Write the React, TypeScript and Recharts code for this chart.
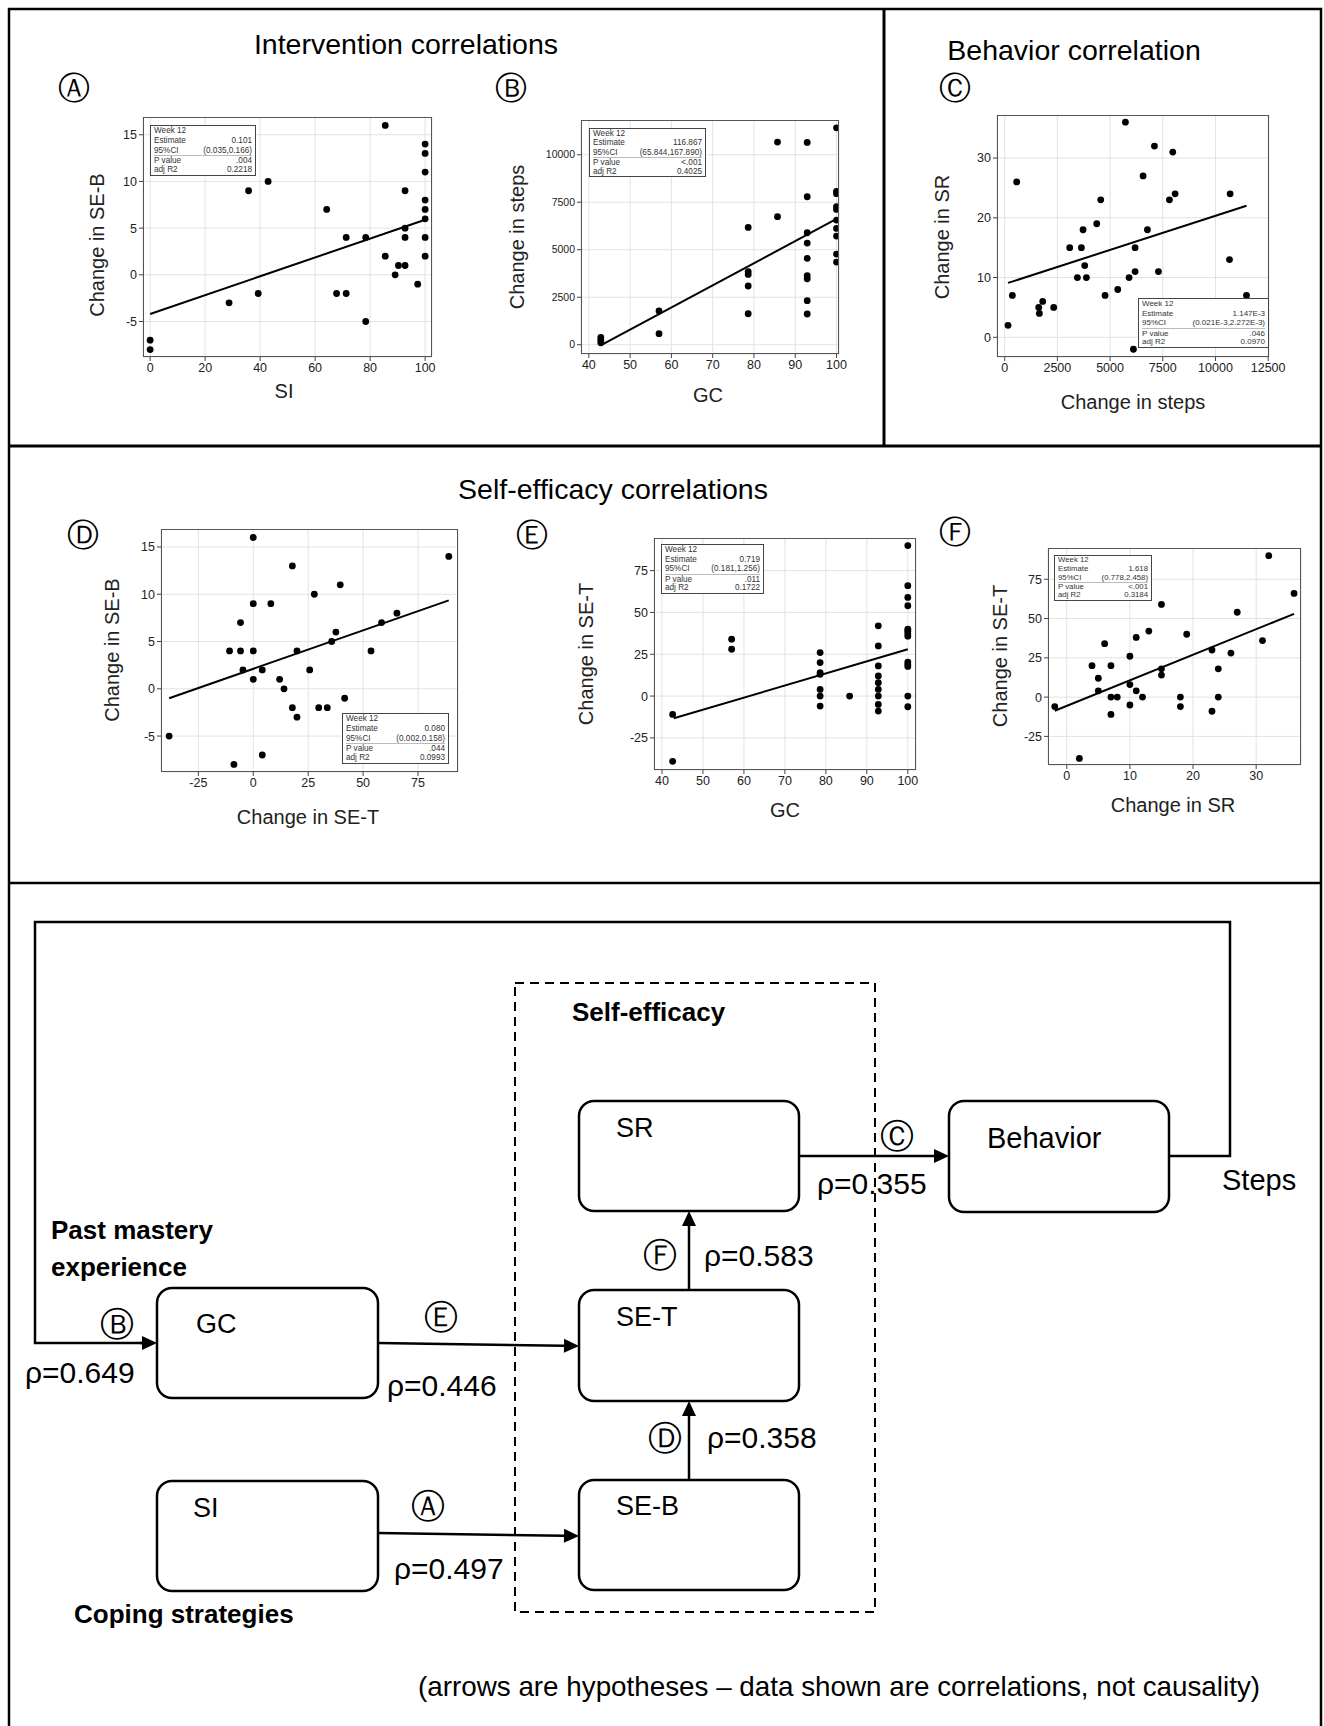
import { ScatterChart, Scatter, XAxis, YAxis, CartesianGrid } from 'recharts'

const FONT = '"Liberation Sans", Arial, sans-serif'

// A: SI vs change in SE-B
const siA = [0, 0, 28.7, 35.8, 39.3, 42.9, 64.2, 67.8, 71.3, 71.3, 78.4, 78.4, 85.5, 85.5, 89.1, 90.3, 92.7, 92.7, 92.7, 92.7, 97.3, 100, 100, 100, 100, 100, 100, 100, 100]
const seBA = [-7, -8, -3, 9, -2, 10, 7, -2, 4, -2, 4, -5, 16, 2, 0, 1, 9, 5, 4, 1, -1, 14, 13, 11, 8, 7, 6, 4, 2]
const fitXA = [0, 100]
const fitYA = [-4.2, 5.9]

// B: GC vs change in steps
const gcB = [42.9, 42.9, 42.9, 57, 57, 78.6, 78.6, 78.6, 78.6, 78.6, 85.7, 85.7, 92.9, 92.9, 92.9, 92.9, 92.9, 92.9, 92.9, 92.9, 92.9, 100, 100, 100, 100, 100, 100, 100, 100, 100, 100]
const stepsB = [380, 230, 100, 1780, 580, 6175, 3850, 3700, 3090, 1630, 6740, 10670, 10650, 7790, 5895, 5350, 4545, 3630, 3470, 2315, 1615, 11420, 8070, 7950, 7265, 7120, 6560, 6120, 5720, 4770, 4350]
const fitXB = [43.2, 100]
const fitYB = [0, 6620]

// C: change in steps vs change in SR
const stepsC = [158, 364, 570, 1614, 1646, 1804, 2326, 3085, 3449, 3639, 3718, 3797, 3877, 4367, 4557, 4763, 5364, 5728, 5902, 6108, 6187, 6187, 6566, 6772, 7104, 7294, 7816, 7975, 8085, 10696, 10665, 11472]
const srC = [2, 7, 26, 5, 4, 6, 5, 15, 10, 15, 18, 12, 10, 19, 23, 7, 8, 36, 10, -2, 15, 11, 27, 18, 32, 11, 23, 31, 24, 24, 13, 7]
const fitXC = [158, 11472]
const fitYC = [9.1, 22.0]

// D: change in SE-T vs change in SE-B
const seTD = [-38.3, -10.8, -8.8, -5.8, -5.8, -4.7, 0, 0, 0, 0, 4.1, 4.1, 8, 12, 14, 17.8, 17.8, 19.9, 19.9, 25.7, 27.8, 29.8, 33.7, 35.7, 37.6, 39.6, 41.6, 53.6, 58.4, 65.4, 89]
const seBD = [-5, 4, -8, 7, 4, 2, 16, 9, 4, 1, 2, -7, 9, 1, 0, 13, -2, -3, 4, 2, 10, -2, -2, 5, 6, 11, -1, 4, 7, 8, 14]
const fitXD = [-38.3, 89]
const fitYD = [-1.0, 9.35]

// E: GC vs change in SE-T
const gcE = [42.6, 42.6, 57, 57, 78.6, 78.6, 78.6, 78.6, 78.6, 78.6, 78.6, 85.8, 92.8, 92.8, 92.8, 92.8, 92.8, 92.8, 92.8, 92.8, 92.8, 100, 100, 100, 100, 100, 100, 100, 100, 100, 100, 100, 100, 100]
const seTE = [-39, -11, 34, 28, 26, 20, 14, 13, 4, 0, -6, 0, 42, 30, 18, 12, 8, 4, 0, -5, -9, 90, 66, 59, 54, 40, 38.8, 37.2, 35.8, 20.3, 18.9, 17.7, 0, -6.4]
const fitXE = [42.9, 100]
const fitYE = [-13.3, 28]

// F: change in SR vs change in SE-T
const srF = [-1.9, 2, 4, 5, 5, 6, 7, 7, 7, 8, 10, 10, 10, 11, 11, 12, 13, 15, 15, 15, 18, 18, 19, 23, 23, 24, 24, 26, 27, 31, 32, 36]
const seTF = [-6, -39, 20, 12, 4, 34, 20, 0, -11, 0, 26, 8, -5, 38, 4, 0, 42, 59, 18, 14, 0, -6, 40, 30, -9, 18, 0, 28, 54, 36, 90, 66]
const fitXF = [-1.9, 36]
const fitYF = [-8.7, 53]

const statLabels = ['Week 12', 'Estimate', '95%CI', 'P value', 'adj R2']
const statsA = ['', '0.101', '(0.035,0.166)', '.004', '0.2218']
const statsB = ['', '116.867', '(65.844,167.890)', '<.001', '0.4025']
const statsC = ['', '1.147E-3', '(0.021E-3,2.272E-3)', '.046', '0.0970']
const statsD = ['', '0.080', '(0.002,0.158)', '.044', '0.0993']
const statsE = ['', '0.719', '(0.181,1.256)', '.011', '0.1722']
const statsF = ['', '1.618', '(0.778,2.458)', '<.001', '0.3184']

const toPoints = (xs: number[], ys: number[]) => xs.map((x, i) => ({ x, y: ys[i] }))

const Dot = (props: any) => <circle cx={props.cx} cy={props.cy} r={3.4} fill="#000" />
const NoDot = () => <g />

type PanelProps = {
  xs: number[]; ys: number[]; fx: number[]; fy: number[]
  xDomain: [number, number]; yDomain: [number, number]
  xTicks: number[]; yTicks: number[]
  frame: [number, number, number, number]
  stats: string[]; statBox: [number, number, number, number]
  xLabel: string; yLabel: string
  xLabelPos: [number, number]; yLabelPos: [number, number]
  yTickFont?: number
  statFont?: number
}

function StatBox({ stats, box, font }: { stats: string[]; box: [number, number, number, number]; font: number }) {
  const [l, t, r, b] = box
  const rowH = (b - t - 2) / 5
  return (
    <div style={{ position: 'absolute', left: l, top: t, width: r - l, height: b - t, boxSizing: 'border-box', border: '1px solid #444', background: '#fff', fontFamily: FONT, fontSize: font, color: '#333', padding: '0 3px' }}>
      {statLabels.map((lab, i) => (
        <div key={lab} style={{ display: 'flex', justifyContent: 'space-between', height: rowH, lineHeight: rowH + 'px', whiteSpace: 'nowrap', borderTop: i === 3 ? '1px solid #bbb' : 'none', boxSizing: 'border-box' }}>
          <span>{lab}</span>
          <span>{stats[i]}</span>
        </div>
      ))}
    </div>
  )
}

function Panel(p: PanelProps) {
  const yw = 44
  const xh = 30
  const rm = 24
  const [x0, y0, x1, y1] = p.frame
  const pw = x1 - x0
  const ph = y1 - y0
  return (
    <>
      <div style={{ position: 'absolute', left: x0 - yw, top: y0 }}>
        <ScatterChart width={pw + yw + rm} height={ph + xh} margin={{ top: 0, right: rm, bottom: 0, left: 0 }}>
          <CartesianGrid stroke="#e2e2e2" />
          <XAxis type="number" dataKey="x" domain={p.xDomain} ticks={p.xTicks} allowDataOverflow interval={0}
            height={xh} axisLine={false} tickSize={4} tickLine={{ stroke: '#444' }}
            tick={{ fontSize: 12.5, fill: '#222', fontFamily: FONT }} />
          <YAxis type="number" dataKey="y" domain={p.yDomain} ticks={p.yTicks} allowDataOverflow interval={0}
            width={yw} axisLine={false} tickSize={4} tickLine={{ stroke: '#444' }}
            tick={{ fontSize: p.yTickFont ?? 12.5, fill: '#222', fontFamily: FONT }} />
          <Scatter data={toPoints(p.xs, p.ys)} shape={Dot} isAnimationActive={false} />
          <Scatter data={toPoints(p.fx, p.fy)} shape={NoDot} line={{ stroke: '#000', strokeWidth: 2 }} isAnimationActive={false} />
        </ScatterChart>
      </div>
      <div style={{ position: 'absolute', left: x0, top: y0, width: pw, height: ph, boxSizing: 'border-box', border: '1px solid #555', pointerEvents: 'none' }} />
      <StatBox stats={p.stats} box={p.statBox} font={p.statFont ?? 8.2} />
      <div style={{ position: 'absolute', left: p.xLabelPos[0], top: p.xLabelPos[1], transform: 'translate(-50%,-50%)', fontFamily: FONT, fontSize: 20, color: '#222', whiteSpace: 'nowrap' }}>{p.xLabel}</div>
      <div style={{ position: 'absolute', left: p.yLabelPos[0], top: p.yLabelPos[1], transform: 'translate(-50%,-50%) rotate(-90deg)', fontFamily: FONT, fontSize: 20, color: '#222', whiteSpace: 'nowrap' }}>{p.yLabel}</div>
    </>
  )
}

function Arrow({ x1, y1, x2, y2 }: { x1: number; y1: number; x2: number; y2: number }) {
  const a = Math.atan2(y2 - y1, x2 - x1)
  const L = 15
  const W = 7
  const bx = x2 - L * Math.cos(a)
  const by = y2 - L * Math.sin(a)
  const px = -Math.sin(a) * W
  const py = Math.cos(a) * W
  return (
    <g>
      <line x1={x1} y1={y1} x2={bx} y2={by} stroke="#000" strokeWidth={2.5} />
      <polygon points={`${x2},${y2} ${bx + px},${by + py} ${bx - px},${by - py}`} fill="#000" />
    </g>
  )
}

const Box = ({ x, y, w, h }: { x: number; y: number; w: number; h: number }) => (
  <rect x={x} y={y} width={w} height={h} rx={15} fill="#fff" stroke="#000" strokeWidth={2.5} />
)

const Circ = ({ x, y, c, s = 34 }: { x: number; y: number; c: string; s?: number }) => (
  <text x={x} y={y} textAnchor="middle" dominantBaseline="central" fontFamily='"DejaVu Sans", sans-serif' fontSize={s}>{c}</text>
)

function Diagram() {
  const T = { fontFamily: FONT, fontSize: 27, fill: '#000' }
  const R = { fontFamily: FONT, fontSize: 30, fill: '#000' }
  const B = { fontFamily: FONT, fontSize: 26, fontWeight: 700, fill: '#000' }
  const H = { fontFamily: FONT, fontSize: 28.5, fill: '#000' }
  return (
    <svg width={1324} height={1726} style={{ position: 'absolute', left: 0, top: 0 }}>
      <rect x={0} y={0} width={1324} height={1726} fill="#fff" />
      {/* panel borders */}
      <rect x={9} y={9} width={1312} height={1730} fill="none" stroke="#000" strokeWidth={2.5} />
      <line x1={9} y1={446} x2={1321} y2={446} stroke="#000" strokeWidth={3} />
      <line x1={884} y1={9} x2={884} y2={446} stroke="#000" strokeWidth={3} />
      <line x1={9} y1={883} x2={1321} y2={883} stroke="#000" strokeWidth={2.5} />

      {/* section titles */}
      <text x={406} y={54} textAnchor="middle" {...H}>Intervention correlations</text>
      <text x={1074} y={60} textAnchor="middle" {...H}>Behavior correlation</text>
      <text x={613} y={499} textAnchor="middle" {...H}>Self-efficacy correlations</text>
      <Circ x={74} y={88} c="Ⓐ" s={32} />
      <Circ x={511} y={88} c="Ⓑ" s={32} />
      <Circ x={955} y={88} c="Ⓒ" s={32} />
      <Circ x={83} y={535} c="Ⓓ" s={32} />
      <Circ x={532} y={535} c="Ⓔ" s={32} />
      <Circ x={955} y={532} c="Ⓕ" s={32} />

      {/* feedback loop */}
      <polyline points="1169,1156 1230,1156 1230,922 35,922 35,1343 142,1343" fill="none" stroke="#000" strokeWidth={2.5} />
      <Arrow x1={140} y1={1343} x2={157} y2={1343} />

      {/* self-efficacy group */}
      <rect x={515} y={983} width={360} height={629} fill="none" stroke="#000" strokeWidth={2} strokeDasharray="9,6" />
      <text x={572} y={1021} {...B}>Self-efficacy</text>

      <Box x={579} y={1101} w={220} h={110} />
      <Box x={949} y={1101} w={220} h={111} />
      <Box x={579} y={1290} w={220} h={111} />
      <Box x={579} y={1480} w={220} h={110} />
      <Box x={157} y={1288} w={221} h={110} />
      <Box x={157} y={1481} w={221} h={110} />

      <text x={616} y={1137} {...T}>SR</text>
      <text x={987} y={1148} {...T} fontSize={29}>Behavior</text>
      <text x={616} y={1326} {...T}>SE-T</text>
      <text x={616} y={1515} {...T}>SE-B</text>
      <text x={196} y={1333} {...T}>GC</text>
      <text x={193} y={1517} {...T}>SI</text>

      <Arrow x1={799} y1={1156} x2={949} y2={1156} />
      <Arrow x1={689} y1={1290} x2={689} y2={1211} />
      <Arrow x1={378} y1={1343} x2={579} y2={1346} />
      <Arrow x1={689} y1={1480} x2={689} y2={1401} />
      <Arrow x1={378} y1={1533} x2={579} y2={1536} />

      <Circ x={897} y={1136} c="Ⓒ" />
      <text x={817} y={1194} {...R}>ρ=0.355</text>
      <text x={1222} y={1190} {...T} fontSize={29}>Steps</text>
      <Circ x={660} y={1255} c="Ⓕ" />
      <text x={704} y={1266} {...R}>ρ=0.583</text>
      <Circ x={441} y={1317} c="Ⓔ" />
      <text x={387} y={1396} {...R}>ρ=0.446</text>
      <Circ x={665} y={1438} c="Ⓓ" />
      <text x={707} y={1448} {...R}>ρ=0.358</text>
      <Circ x={428} y={1506} c="Ⓐ" />
      <text x={394} y={1579} {...R}>ρ=0.497</text>
      <Circ x={117} y={1324} c="Ⓑ" />
      <text x={25} y={1383} {...R}>ρ=0.649</text>

      <text x={51} y={1239} {...B}>Past mastery</text>
      <text x={51} y={1276} {...B}>experience</text>
      <text x={74} y={1623} {...B}>Coping strategies</text>
      <text x={418} y={1696} fontFamily={FONT} fontSize={27.8}>(arrows are hypotheses – data shown are correlations, not causality)</text>
    </svg>
  )
}

export default function App() {
  return (
    <div style={{ position: 'absolute', left: 0, top: 0, width: 1324, height: 1726, background: '#fff', overflow: 'hidden' }}>
      <Diagram />
      <Panel xs={siA} ys={seBA} fx={fitXA} fy={fitYA} xDomain={[-2.6, 102.5]} yDomain={[-8.8, 16.9]}
        xTicks={[0, 20, 40, 60, 80, 100]} yTicks={[-5, 0, 5, 10, 15]} frame={[143, 117, 432, 357]}
        stats={statsA} statBox={[150, 125, 256, 176]} xLabel="SI" yLabel="Change in SE-B"
        xLabelPos={[284, 391]} yLabelPos={[97, 245]} />
      <Panel xs={gcB} ys={stepsB} fx={fitXB} fy={fitYB} xDomain={[38.1, 100.6]} yDomain={[-490, 11830]}
        xTicks={[40, 50, 60, 70, 80, 90, 100]} yTicks={[0, 2500, 5000, 7500, 10000]} frame={[581, 120, 839, 354]}
        stats={statsB} statBox={[589, 128, 706, 177]} xLabel="GC" yLabel="Change in steps"
        xLabelPos={[708, 395]} yLabelPos={[517, 237]} yTickFont={10.5} />
      <Panel xs={stepsC} ys={srC} fx={fitXC} fy={fitYC} xDomain={[-365, 12540]} yDomain={[-3.3, 37.2]}
        xTicks={[0, 2500, 5000, 7500, 10000, 12500]} yTicks={[0, 10, 20, 30]} frame={[997, 115, 1269, 357]}
        stats={statsC} statBox={[1138, 298, 1269, 348]} xLabel="Change in steps" yLabel="Change in SR"
        xLabelPos={[1133, 402]} yLabelPos={[942, 237]} statFont={8} />
      <Panel xs={seTD} ys={seBD} fx={fitXD} fy={fitYD} xDomain={[-42, 93.2]} yDomain={[-8.8, 16.9]}
        xTicks={[-25, 0, 25, 50, 75]} yTicks={[-5, 0, 5, 10, 15]} frame={[161, 529, 458, 772]}
        stats={statsD} statBox={[342, 713, 449, 764]} xLabel="Change in SE-T" yLabel="Change in SE-B"
        xLabelPos={[308, 817]} yLabelPos={[112, 650]} />
      <Panel xs={gcE} ys={seTE} fx={fitXE} fy={fitYE} xDomain={[38.05, 102]} yDomain={[-44.2, 94.5]}
        xTicks={[40, 50, 60, 70, 80, 90, 100]} yTicks={[-25, 0, 25, 50, 75]} frame={[654, 538, 916, 770]}
        stats={statsE} statBox={[661, 544, 764, 594]} xLabel="GC" yLabel="Change in SE-T"
        xLabelPos={[785, 810]} yLabelPos={[586, 654]} />
      <Panel xs={srF} ys={seTF} fx={fitXF} fy={fitYF} xDomain={[-2.97, 37.1]} yDomain={[-43.2, 94.9]}
        xTicks={[0, 10, 20, 30]} yTicks={[-25, 0, 25, 50, 75]} frame={[1048, 548, 1301, 765]}
        stats={statsF} statBox={[1054, 555, 1152, 601]} xLabel="Change in SR" yLabel="Change in SE-T"
        xLabelPos={[1173, 805]} yLabelPos={[1000, 656]} statFont={7.8} />
    </div>
  )
}
